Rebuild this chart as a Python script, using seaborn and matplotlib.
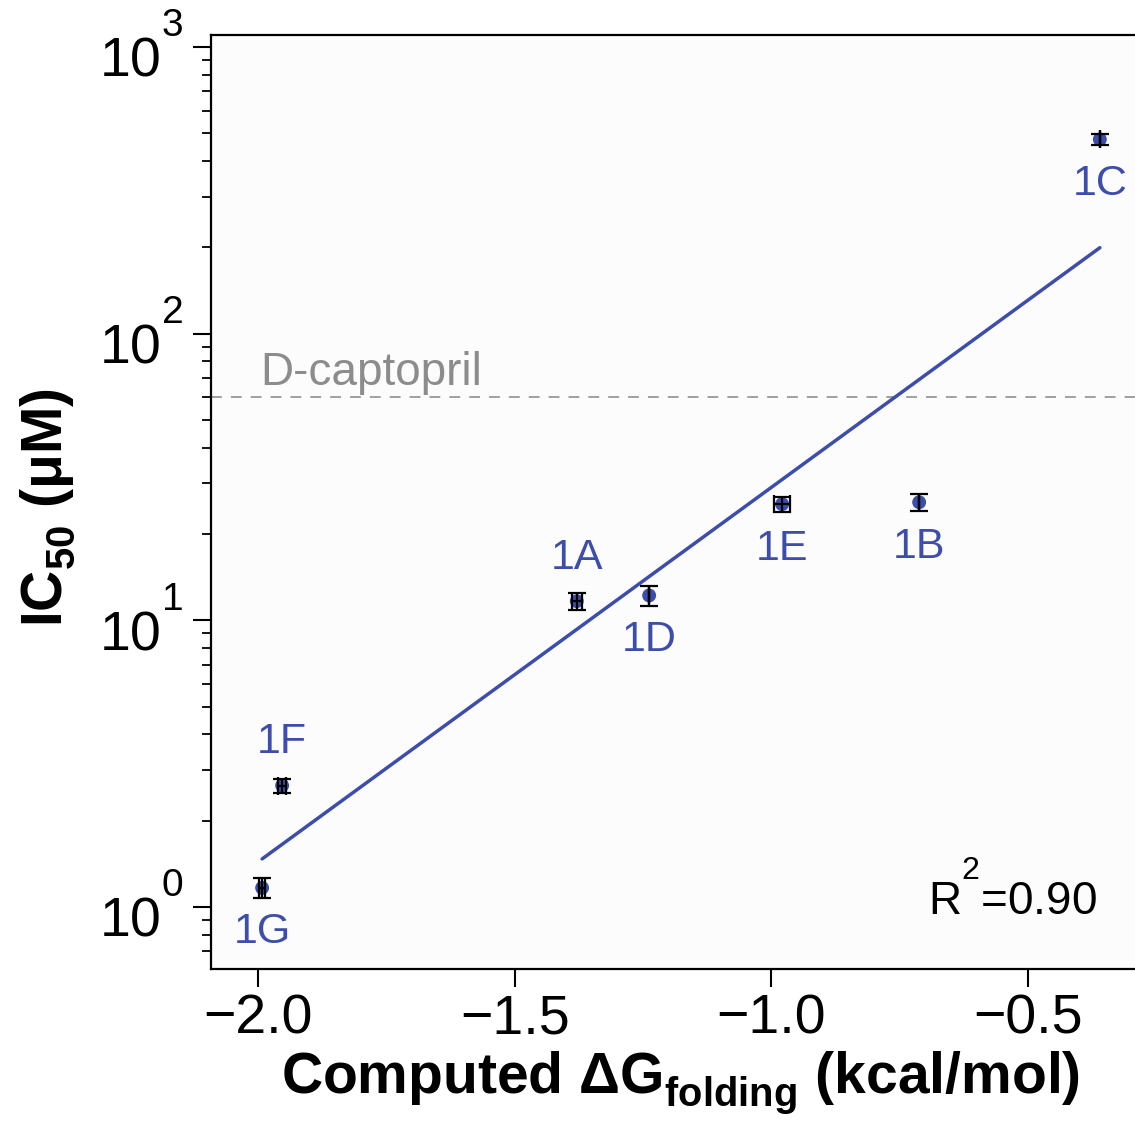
import numpy as np
import pandas as pd
import matplotlib
matplotlib.use("Agg")
import matplotlib.pyplot as plt
import seaborn as sns
from matplotlib.ticker import LogLocator, LogFormatterSciNotation, NullFormatter, FixedLocator

# ---- data ----
compounds = ["1G", "1F", "1A", "1D", "1E", "1B", "1C"]
dg_folding = [-1.992, -1.953, -1.379, -1.238, -0.979, -0.712, -0.360]
ic50 = [1.165, 2.65, 11.65, 12.2, 25.4, 25.8, 476.0]
ic50_err = [0.095, 0.15, 0.8, 1.0, 1.45, 1.7, 21.0]
dg_err = [0.006, 0.008, 0.010, 0.0, 0.015, 0.0, 0.0]
label_above = [False, True, True, False, False, False, False]
captopril_ic50 = 60.0
r2_text = "R$^{2}$=0.90"

BLUE = "#3d4dab"
GRAY = "#999999"

sns.set_theme(style="ticks")
plt.rcParams["font.family"] = ["Liberation Sans", "DejaVu Sans"]
plt.rcParams["mathtext.fontset"] = "custom"
plt.rcParams["mathtext.rm"] = "Liberation Sans"
plt.rcParams["mathtext.it"] = "Liberation Sans:italic"
plt.rcParams["mathtext.bf"] = "Liberation Sans:bold"
plt.rcParams["axes.unicode_minus"] = True
plt.rcParams["text.color"] = "black"
plt.rcParams["axes.labelcolor"] = "black"
plt.rcParams["xtick.color"] = "black"
plt.rcParams["ytick.color"] = "black"

# raise superscripts higher (as in the reference)
try:
    import matplotlib._mathtext as _mt
    _mt.FontConstantsBase.sup1 = 1.4
    _mt.FontConstantsBase.sub1 = 0.45
except Exception:
    pass

df = pd.DataFrame({"compound": compounds, "dg": dg_folding, "ic50": ic50,
                   "ic50_err": ic50_err, "dg_err": dg_err})

fig = plt.figure(figsize=(11.35, 11.21), dpi=100)
ax = fig.add_axes([211 / 1135, (1121 - 969) / 1121, (1135 - 211) / 1135, (969 - 35) / 1121])
ax.set_facecolor("#fcfcfc")

# linear fit of log10(IC50) vs dG
slope, intercept = np.polyfit(df["dg"], np.log10(df["ic50"]), 1)
xfit = np.array([df["dg"].min(), df["dg"].max()])
fit_df = pd.DataFrame({"x": xfit, "y": 10 ** (slope * xfit + intercept)})

ax.set_yscale("log")
sns.lineplot(data=fit_df, x="x", y="y", color=BLUE, lw=2.5, ax=ax, zorder=2)
sns.scatterplot(data=df, x="dg", y="ic50", color=BLUE, s=100, edgecolor="none", ax=ax, zorder=3)
ax.errorbar(df["dg"], df["ic50"], yerr=df["ic50_err"], xerr=df["dg_err"], fmt="none",
            ecolor="black", elinewidth=1.6, capsize=6.5, capthick=1.6, zorder=4)

ax.axhline(captopril_ic50, color=GRAY, ls=(0, (6, 5)), lw=1.3, zorder=1)
ax.text(-1.996, 66, "D-captopril", color="#8c8c8c", fontsize=33, ha="left", va="baseline")

for name, x, y, above in zip(compounds, dg_folding, ic50, label_above):
    ax.annotate(name, (x, y), xytext=(0, 31 if above else -32), textcoords="offset points",
                ha="center", va="center", color=BLUE, fontsize=31)

ax.text(-0.366, 0.94, r2_text, fontsize=33, ha="right", va="baseline", color="black")

ax.set_xlim(-2.0916, -0.2915)
ax.set_ylim(0.607, 1101)
ax.xaxis.set_major_locator(FixedLocator([-2.0, -1.5, -1.0, -0.5]))
ax.set_xticklabels(["\u22122.0", "\u22121.5", "\u22121.0", "\u22120.5"])
ax.yaxis.set_major_locator(LogLocator(base=10, numticks=10))
ax.yaxis.set_major_formatter(LogFormatterSciNotation())
ax.yaxis.set_minor_locator(LogLocator(base=10, subs=np.arange(2, 10), numticks=20))
ax.yaxis.set_minor_formatter(NullFormatter())

ax.tick_params(axis="both", which="major", direction="out", length=13, width=1.5,
               labelsize=40, color="black", labelcolor="black")
ax.tick_params(axis="x", which="major", pad=5)
ax.tick_params(axis="y", which="major", pad=7)
ax.tick_params(axis="y", which="minor", direction="out", length=6.5, width=1.3, color="black")

for side in ["left", "bottom", "top"]:
    ax.spines[side].set_visible(True)
    ax.spines[side].set_linewidth(1.6)
    ax.spines[side].set_color("black")
ax.spines["right"].set_visible(False)

ax.set_xlabel("Computed \u0394G$_{\\mathbf{folding}}$ (kcal/mol)", fontsize=41,
              fontweight="bold")
ax.set_ylabel("IC$_{\\mathbf{50}}$ (\u03bcM)", fontsize=41, fontweight="bold")
ax.xaxis.set_label_coords((680 - 211) / 924, -(1050 - 969) / 934)
ax.yaxis.set_label_coords(-(211 - 77) / 924, (969 - 508) / 934)

fig.savefig("out.png", dpi=100)
